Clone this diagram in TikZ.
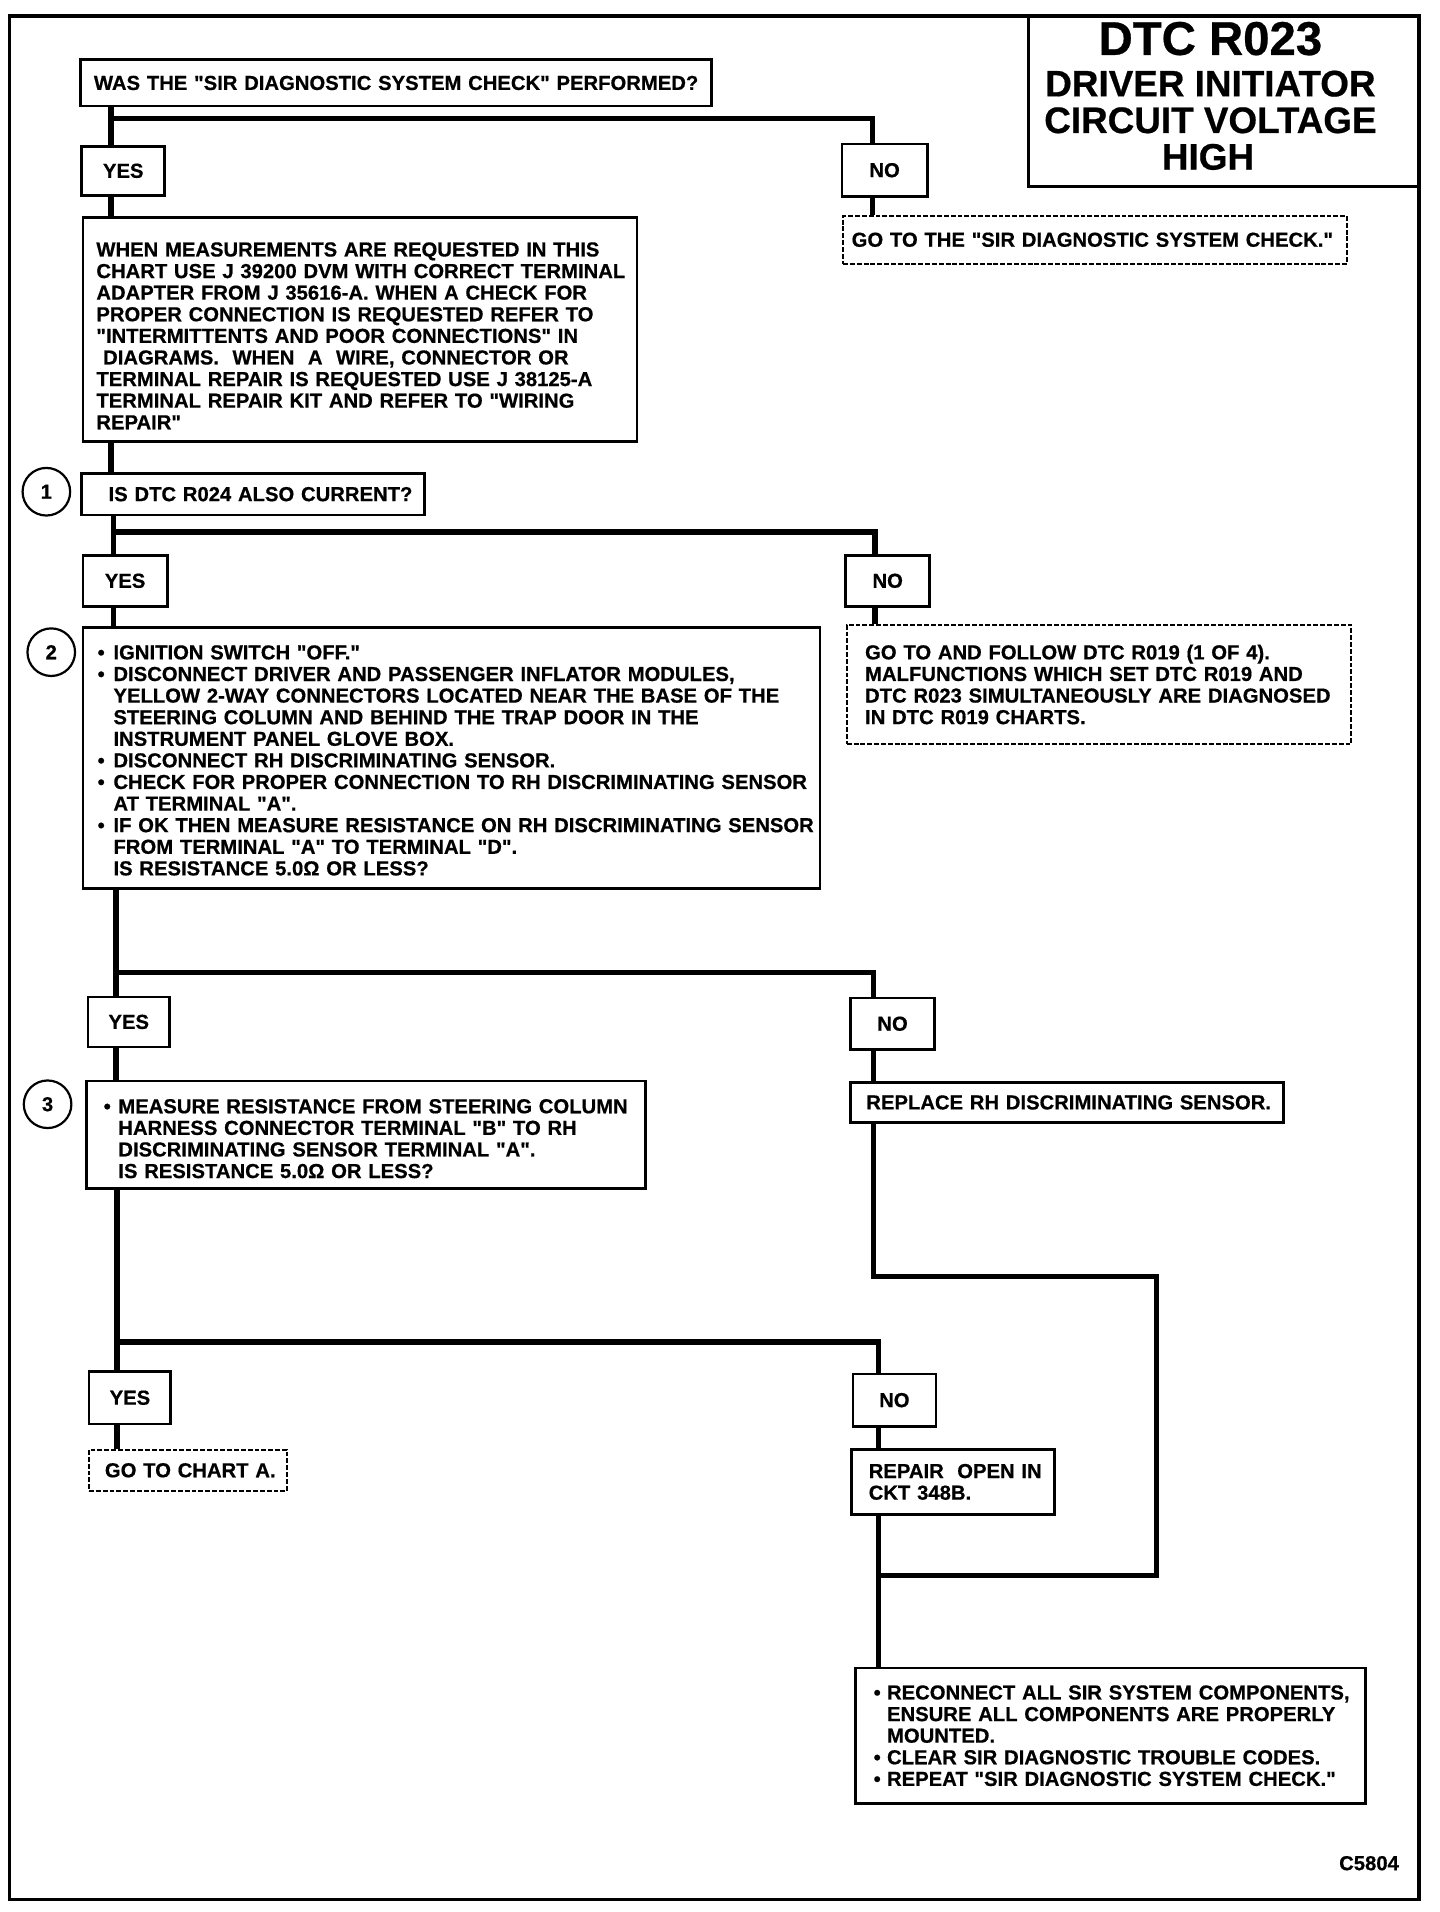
\documentclass[tikz,border=0pt]{standalone}
\usepackage{fontspec}
\newfontfamily\bodyfont{Liberation Sans}[BoldFeatures={FakeBold=0.6}]
\usetikzlibrary{calc}
\newcommand{\myl}[1]{\mbox{#1}}
\newcommand{\mybul}{\makebox[6.5pt][l]{\textbullet}}
\newcommand{\myind}{\hspace*{6.5pt}}
\begin{document}
\begin{tikzpicture}[x=0.5pt,y=-0.5pt,
  every node/.style={font=\bodyfont\bfseries\fontsize{8.3}{8.85}\selectfont},
  bx/.style={draw, line width=1.1pt, inner ysep=0pt, align=left},
  dbx/.style={draw, line width=0.8pt, dash pattern=on 2pt off 0.8pt, inner ysep=0pt, align=left},
  yn/.style={draw, line width=1.1pt, inner sep=0pt, align=center},
  circ/.style={draw, circle, line width=0.9pt, inner sep=0pt, minimum size=19.5pt},
  conn/.style={line width=2.3pt, line join=miter},
  ttl/.style={anchor=base, inner sep=0pt}
]
\useasboundingbox (0,0) rectangle (1180,1567);
\fill[white] (0,0) rectangle (1180,1567);
% outer border
\draw[line width=1.35pt] (8,13) rectangle (1163,1557);
% title box
\draw[line width=1.1pt] (843,13) rectangle (1163,153);
\node[ttl, font=\bodyfont\bfseries\fontsize{19.4}{20}\selectfont] (t1) at (992,45) {DTC R023};
\node[ttl, font=\bodyfont\bfseries\fontsize{15.1}{16}\selectfont] (t2) at (992,79) {DRIVER INITIATOR};
\node[ttl, font=\bodyfont\bfseries\fontsize{15.1}{16}\selectfont] (t3) at (992,109) {CIRCUIT VOLTAGE};
\node[ttl, font=\bodyfont\bfseries\fontsize{15.1}{16}\selectfont] (t4) at (990,139) {HIGH};

% question 1
\node[bx, minimum width=258.5pt, minimum height=19pt, inner xsep=5.5pt, text width=247.5pt] (q1) at (324.5,68)
  {\myl{WAS THE "SIR DIAGNOSTIC SYSTEM CHECK" PERFORMED?}};
\node[yn, minimum width=34pt, minimum height=20pt] (yes1) at (101,140) {YES};
\node[yn, minimum width=35pt, minimum height=21.5pt] (no1) at (725,139.5) {NO};
\node[dbx, minimum width=206.5pt, minimum height=19.5pt, inner xsep=3.5pt, text width=199.5pt] (goto1) at (897.5,196.5)
  {\myl{GO TO THE "SIR DIAGNOSTIC SYSTEM CHECK."}};
\node[bx, minimum width=227pt, minimum height=92pt, inner xsep=5.5pt, text width=216pt] (info) at (295,270)
  {\myl{\rule{0pt}{11pt}WHEN MEASUREMENTS ARE REQUESTED IN THIS}\\
   \myl{CHART USE J 39200 DVM WITH CORRECT TERMINAL}\\
   \myl{ADAPTER FROM J 35616-A. WHEN A CHECK FOR}\\
   \myl{PROPER CONNECTION IS REQUESTED REFER TO}\\
   \myl{"INTERMITTENTS AND POOR CONNECTIONS" IN}\\
   \myl{\ DIAGRAMS.\ \ WHEN\ \ A\ \ WIRE, CONNECTOR OR}\\
   \myl{TERMINAL REPAIR IS REQUESTED USE J 38125-A}\\
   \myl{TERMINAL REPAIR KIT AND REFER TO "WIRING}\\
   \myl{REPAIR"}};

% question 2
\node[circ] (c1) at (38,403) {1};
\node[bx, minimum width=140.5pt, minimum height=17pt, inner xsep=11pt, text width=118.5pt] (q2) at (207.5,405)
  {\myl{IS DTC R024 ALSO CURRENT?}};
\node[yn, minimum width=34.5pt, minimum height=21pt] (yes2) at (102.5,476) {YES};
\node[yn, minimum width=34.5pt, minimum height=21pt] (no2) at (727.5,476) {NO};
\node[dbx, minimum width=206.5pt, minimum height=49pt, inner xsep=7.5pt, text width=191.5pt] (goto2) at (900.5,561)
  {\myl{GO TO AND FOLLOW DTC R019 (1 OF 4).}\\
   \myl{MALFUNCTIONS WHICH SET DTC R019 AND}\\
   \myl{DTC R023 SIMULTANEOUSLY ARE DIAGNOSED}\\
   \myl{IN DTC R019 CHARTS.}};
\node[circ] (c2) at (42,534.5) {2};
\node[bx, minimum width=302pt, minimum height=107pt, inner xsep=6pt, text width=290pt] (step2) at (370,621)
  {\myl{\rule{0pt}{8pt}\mybul IGNITION SWITCH "OFF."}\\
   \myl{\mybul DISCONNECT DRIVER AND PASSENGER INFLATOR MODULES,}\\
   \myl{\myind YELLOW 2-WAY CONNECTORS LOCATED NEAR THE BASE OF THE}\\
   \myl{\myind STEERING COLUMN AND BEHIND THE TRAP DOOR IN THE}\\
   \myl{\myind INSTRUMENT PANEL GLOVE BOX.}\\
   \myl{\mybul DISCONNECT RH DISCRIMINATING SENSOR.}\\
   \myl{\mybul CHECK FOR PROPER CONNECTION TO RH DISCRIMINATING SENSOR}\\
   \myl{\myind AT TERMINAL "A".}\\
   \myl{\mybul IF OK THEN MEASURE RESISTANCE ON RH DISCRIMINATING SENSOR}\\
   \myl{\myind FROM TERMINAL "A" TO TERMINAL "D".}\\
   \myl{\myind IS RESISTANCE 5.0Ω OR LESS?}};

% question 3
\node[yn, minimum width=33.5pt, minimum height=20.5pt] (yes3) at (105.5,837.5) {YES};
\node[yn, minimum width=34.5pt, minimum height=21pt] (no3) at (731.5,839) {NO};
\node[bx, minimum width=177.5pt, minimum height=16.5pt, inner xsep=6.5pt, text width=164.5pt] (replace) at (874.5,903.5)
  {\myl{REPLACE RH DISCRIMINATING SENSOR.}};
\node[circ] (c3) at (39,905) {3};
\node[bx, minimum width=229pt, minimum height=44pt, inner xsep=7pt, text width=215pt] (step3) at (300,930)
  {\myl{\rule{0pt}{9pt}\makebox[6pt][l]{\textbullet}MEASURE RESISTANCE FROM STEERING COLUMN}\\
   \myl{\hspace*{6pt}HARNESS CONNECTOR TERMINAL "B" TO RH}\\
   \myl{\hspace*{6pt}DISCRIMINATING SENSOR TERMINAL "A".}\\
   \myl{\hspace*{6pt}IS RESISTANCE 5.0Ω OR LESS?}};

% question 4
\node[yn, minimum width=33.5pt, minimum height=21.5pt] (yes4) at (106.5,1145.5) {YES};
\node[dbx, minimum width=81pt, minimum height=17pt, inner xsep=6.5pt, text width=68pt] (chartA) at (154,1205)
  {\myl{GO TO CHART A.}};
\node[yn, minimum width=34pt, minimum height=21.5pt] (no4) at (733,1147.5) {NO};
\node[bx, minimum width=83pt, minimum height=26.5pt, inner xsep=7pt, text width=69pt] (repair) at (781,1214.5)
  {\myl{REPAIR\ \ OPEN IN}\\ \myl{CKT 348B.}};
\node[bx, minimum width=209pt, minimum height=55.5pt, inner xsep=7.5pt, text width=194pt] (final) at (910,1422.5)
  {\myl{\makebox[5.5pt][l]{\textbullet}RECONNECT ALL SIR SYSTEM COMPONENTS,}\\
   \myl{\hspace*{5.5pt}ENSURE ALL COMPONENTS ARE PROPERLY}\\
   \myl{\hspace*{5.5pt}MOUNTED.}\\
   \myl{\makebox[5.5pt][l]{\textbullet}CLEAR SIR DIAGNOSTIC TROUBLE CODES.}\\
   \myl{\makebox[5.5pt][l]{\textbullet}REPEAT "SIR DIAGNOSTIC SYSTEM CHECK."}};
\node (code) at (1122,1527) {C5804};

% columns and junctions
\coordinate (cA) at (91,0);
\coordinate (cB) at (93,0);
\coordinate (cC) at (95,0);
\coordinate (cD) at (96,0);
\coordinate (cN1) at (715,0);
\coordinate (cN2) at (717,0);
\coordinate (cN3) at (716,0);
\coordinate (cN4) at (720,0);
\coordinate (j1) at (91,97);
\coordinate (j2) at (93,436);
\coordinate (j3) at (95,797);
\coordinate (j4) at (96,1100);
\coordinate (lt) at (948,1046);
\coordinate (lb) at (948,1291);
\coordinate (lbj) at (720,1291);

% connectors
\draw[conn] (q1.south -| cA) -- (yes1.north -| cA);
\draw[conn] (j1) -| (no1.north -| cN1);
\draw[conn] (yes1.south -| cA) -- (info.north -| cA);
\draw[conn] (no1.south -| cN1) -- (goto1.north -| cN1);
\draw[conn] (info.south -| cA) -- (q2.north -| cA);
\draw[conn] (q2.south -| cB) -- (yes2.north -| cB);
\draw[conn] (j2) -| (no2.north -| cN2);
\draw[conn] (yes2.south -| cB) -- (step2.north -| cB);
\draw[conn] (no2.south -| cN2) -- (goto2.north -| cN2);
\draw[conn] (step2.south -| cC) -- (yes3.north -| cC);
\draw[conn] (j3) -| (no3.north -| cN3);
\draw[conn] (yes3.south -| cC) -- (step3.north -| cC);
\draw[conn] (no3.south -| cN3) -- (replace.north -| cN3);
\draw[conn] (step3.south -| cD) -- (yes4.north -| cD);
\draw[conn] (j4) -| (no4.north -| cN4);
\draw[conn] (yes4.south -| cD) -- (chartA.north -| cD);
\draw[conn] (no4.south -| cN4) -- (repair.north -| cN4);
\draw[conn] (repair.south -| cN4) -- (final.north -| cN4);
\draw[conn, line width=2pt] (replace.south -| cN3) |- (lt) -- (lb) -- (lbj);
\end{tikzpicture}
\end{document}
